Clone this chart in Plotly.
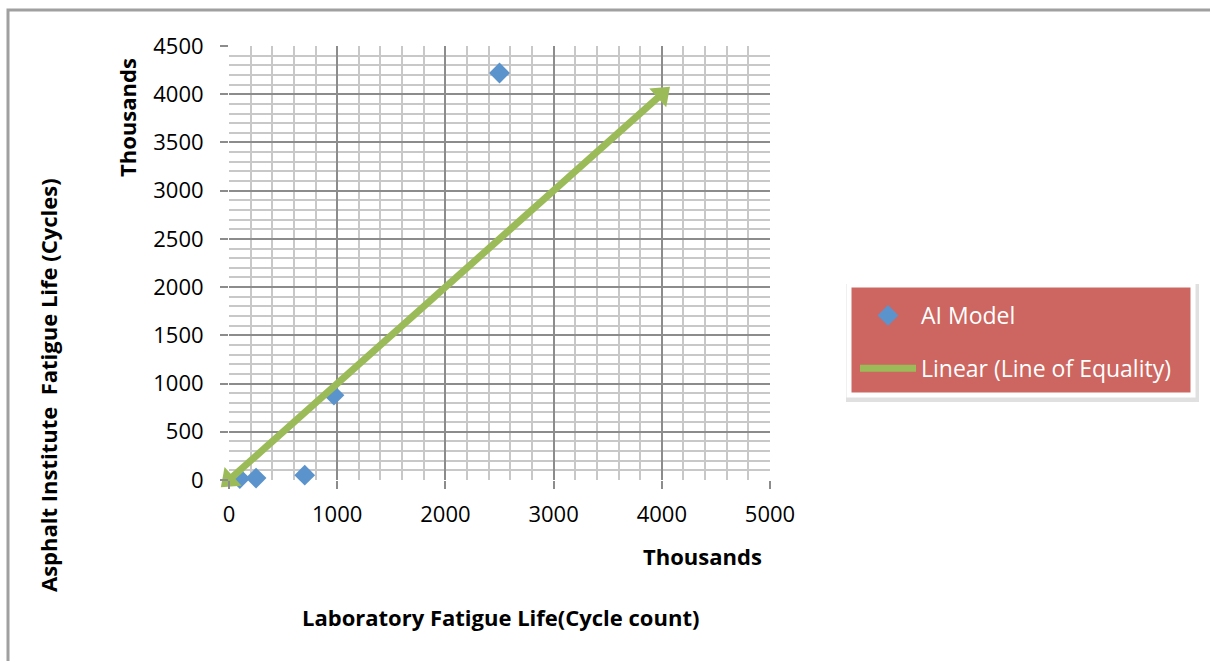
import plotly.graph_objects as go

# Data (thousands of cycles)
ai_x = [100, 250, 700, 970, 2500]
ai_y = [15, 20, 50, 880, 4220]
eq_x = [0, 4000]
eq_y = [0, 4000]

W, H = 1210, 661
L, R, T, B = 229, 770, 46, 480
PW, PH = R - L, B - T

def px(x):
    return (x - L) / PW

def py(y):
    return (B - y) / PH

FONT = "Open Sans"
BLUE = "#5B93CC"
GREEN = "#9BBB59"

fig = go.Figure()
fig.add_trace(go.Scatter(
    x=ai_x, y=ai_y, mode="markers", name="AI Model",
    marker=dict(symbol="diamond", size=16, color=BLUE),
    legendgroup="a", cliponaxis=False,
))
fig.add_trace(go.Scatter(
    x=eq_x, y=eq_y, mode="lines", name="Linear (Line of Equality)",
    line=dict(color=GREEN, width=7),
    legendgroup="b",
))
fig.add_trace(go.Scatter(
    x=eq_x, y=eq_y, mode="markers", showlegend=False, cliponaxis=False,
    marker=dict(symbol="triangle-up", size=22, color=GREEN, angle=[228, 48]),
))

axis_common = dict(
    showline=False, zeroline=False, ticks="outside", ticklen=8,
    tickcolor="#8C8C8C", tickwidth=2,
    showgrid=True, gridcolor="#8C8C8C", gridwidth=2,
    tickfont=dict(family=FONT, size=22, color="#000"),
)
fig.update_xaxes(range=[0, 5000], dtick=1000, tick0=0,
                 minor=dict(dtick=200, showgrid=True, gridcolor="#C8C8C8", gridwidth=2),
                 ticklabelstandoff=7, **axis_common)
fig.update_yaxes(range=[0, 4500], dtick=500, tick0=0,
                 minor=dict(dtick=100, showgrid=True, gridcolor="#C8C8C8", gridwidth=2),
                 ticklabelstandoff=12, **axis_common)

ann = [
    dict(text="<b>Thousands</b>", x=px(127), y=py(118), textangle=-90, size=22),
    dict(text="<b>Asphalt Institute  Fatigue Life (Cycles)</b>", x=px(48), y=py(385), textangle=-90, size=22),
    dict(text="<b>Thousands</b>", x=px(702), y=py(556), textangle=0, size=22),
    dict(text="<b>Laboratory Fatigue Life(Cycle count)</b>", x=px(500), y=py(617), textangle=0, size=22),
]
annotations = [
    dict(text=a["text"], x=a["x"], y=a["y"], xref="paper", yref="paper",
         textangle=a["textangle"], showarrow=False, xanchor="center", yanchor="middle",
         font=dict(family=FONT, size=a["size"], color="#000"))
    for a in ann
]

shapes = [
    # outer chart border
    dict(type="rect", xref="paper", yref="paper", x0=px(8), x1=px(1230), y0=py(690), y1=py(10),
         line=dict(color="#A0A0A0", width=3), fillcolor="rgba(0,0,0,0)", layer="below"),
    # legend shadow
    dict(type="rect", xref="paper", yref="paper", x0=px(846), x1=px(1199), y0=py(402), y1=py(284),
         line=dict(width=0), fillcolor="rgba(0,0,0,0.12)", layer="above"),
    # legend box
    dict(type="rect", xref="paper", yref="paper", x0=px(849), x1=px(1193), y0=py(395), y1=py(285),
         line=dict(color="white", width=5), fillcolor="#CD6660", layer="above"),
]

fig.update_layout(
    width=W, height=H,
    margin=dict(l=L, r=W - R, t=T, b=H - B),
    paper_bgcolor="white", plot_bgcolor="white",
    showlegend=True,
    legend=dict(
        x=px(855), y=py(294), xanchor="left", yanchor="top",
        bgcolor="rgba(0,0,0,0)", borderwidth=0,
        font=dict(family=FONT, size=23, color="white"),
        traceorder="grouped", tracegroupgap=20,
        itemwidth=56,
    ),
    annotations=annotations,
    shapes=shapes,
)

fig.write_html("out.html")
